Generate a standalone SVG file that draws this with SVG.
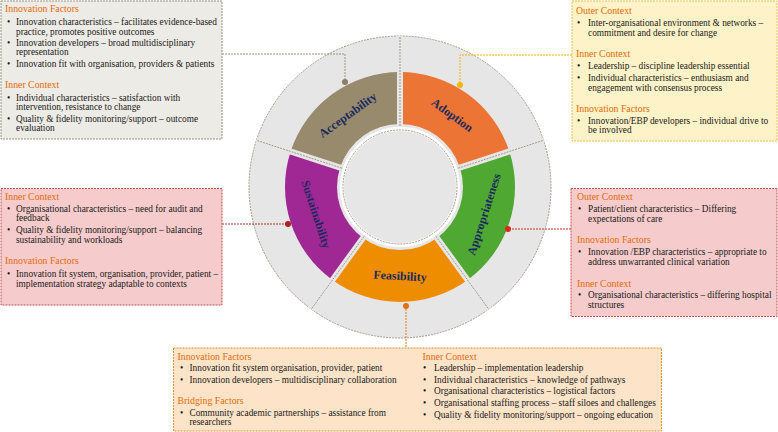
<svg xmlns="http://www.w3.org/2000/svg" width="778" height="432" viewBox="0 0 778 432">
<style>
.t{font-family:"Liberation Serif","Times New Roman",serif;font-size:9.3px;fill:#1a1a1a}
.h{font-family:"Liberation Serif","Times New Roman",serif;font-size:9.8px;fill:#e36c09}
.lbl{font-family:"Liberation Serif","Times New Roman",serif;font-size:12px;font-weight:bold;fill:#1b2a5e;text-anchor:middle}
.div{stroke:#a39b86;stroke-width:1;stroke-dasharray:2 1;fill:none}
.gap{stroke:#e6e6e6;stroke-width:6;fill:none}
</style>
<rect width="778" height="432" fill="#ffffff"/>

<g id="wheel">
  <circle cx="400" cy="187" r="151" fill="#e6e6e6" stroke="#a39b86" stroke-width="1" stroke-dasharray="2 1"/>
</g>

<g id="adoption">
  <path d="M400,72 A115,115 0 0 1 509.4,151.5 L459.9,167.5 A63,63 0 0 0 400,124 Z" fill="#ec7535"/>
  <text class="lbl" transform="translate(452.3,115) rotate(36)" dy="4">Adoption</text>
</g>
<g id="appropriateness">
  <path d="M509.4,151.5 A115,115 0 0 1 467.6,280 L437,238 A63,63 0 0 0 459.9,167.5 Z" fill="#4fa832"/>
  <text class="lbl" transform="translate(484,214.3) rotate(-72)" dy="4">Appropriateness</text>
</g>
<g id="feasibility">
  <path d="M467.6,280 A115,115 0 0 1 332.4,280 L363,238 A63,63 0 0 0 437,238 Z" fill="#ef8d00"/>
  <text class="lbl" transform="translate(400,276) rotate(3)" dy="4">Feasibility</text>
</g>
<g id="sustainability">
  <path d="M332.4,280 A115,115 0 0 1 290.6,151.5 L340.1,167.5 A63,63 0 0 0 363,238 Z" fill="#a02895"/>
  <text class="lbl" transform="translate(316,214.3) rotate(72)" dy="4">Sustainability</text>
</g>
<g id="acceptability">
  <path d="M290.6,151.5 A115,115 0 0 1 400,72 L400,124 A63,63 0 0 0 340.1,167.5 Z" fill="#978a6d"/>
  <text class="lbl" transform="translate(347.7,115) rotate(-36)" dy="4">Acceptability</text>
</g>

<g id="dividers">
  <line class="gap" x1="400" y1="129" x2="400" y2="36"/>
  <line class="gap" x1="455.2" y1="169.1" x2="543.6" y2="140.3"/>
  <line class="gap" x1="434.1" y1="233.9" x2="488.8" y2="309.2"/>
  <line class="gap" x1="365.9" y1="233.9" x2="311.2" y2="309.2"/>
  <line class="gap" x1="344.8" y1="169.1" x2="256.4" y2="140.3"/>
  <line class="div" x1="400" y1="129" x2="400" y2="36"/>
  <line class="div" x1="455.2" y1="169.1" x2="543.6" y2="140.3"/>
  <line class="div" x1="434.1" y1="233.9" x2="488.8" y2="309.2"/>
  <line class="div" x1="365.9" y1="233.9" x2="311.2" y2="309.2"/>
  <line class="div" x1="344.8" y1="169.1" x2="256.4" y2="140.3"/>
</g>

<g id="centre">
  <circle cx="400" cy="187" r="58" fill="#e6e6e6" stroke="#ffffff" stroke-width="4"/>
  <circle cx="400" cy="187" r="57" fill="none" stroke="#a39b86" stroke-width="1" stroke-dasharray="2 1"/>
</g>

<g id="connectors" fill="none" stroke-width="1" stroke-dasharray="2 1">
  <polyline points="222,54 345,54 345,82" stroke="#9e9280"/>
  <polyline points="572,55 460,55 460,85" stroke="#f0b400"/>
  <polyline points="222,224 288,224" stroke="#b03030"/>
  <polyline points="571,229 508,229" stroke="#c83028"/>
  <polyline points="406,306 406,348" stroke="#e07b20"/>
  <circle cx="345" cy="82" r="3" fill="#8c7e65" stroke="none"/>
  <circle cx="460" cy="85" r="3" fill="#f5b800" stroke="none"/>
  <circle cx="288" cy="224" r="3" fill="#b02020" stroke="none"/>
  <circle cx="508" cy="229" r="3" fill="#d82a20" stroke="none"/>
  <circle cx="406" cy="306" r="3" fill="#e07010" stroke="none"/>
</g>

<g id="box-acceptability">
  <rect x="1" y="1" width="221" height="138" fill="#ecebe5" stroke="#9e9280" stroke-width="1" stroke-dasharray="2 1"/>
  <text class="h" x="5" y="12">Innovation Factors</text>
  <text class="t" x="7" y="25">•</text><text class="t" x="16" y="25">Innovation characteristics – facilitates evidence-based</text>
  <text class="t" x="16" y="34.5">practice, promotes positive outcomes</text>
  <text class="t" x="7" y="45.7">•</text><text class="t" x="16" y="45.7">Innovation developers – broad multidisciplinary</text>
  <text class="t" x="16" y="55">representation</text>
  <text class="t" x="7" y="66.7">•</text><text class="t" x="16" y="66.7">Innovation fit with organisation, providers &amp; patients</text>
  <text class="h" x="5" y="88">Inner Context</text>
  <text class="t" x="7" y="100.7">•</text><text class="t" x="16" y="100.7">Individual characteristics – satisfaction with</text>
  <text class="t" x="16" y="110">intervention, resistance to change</text>
  <text class="t" x="7" y="121.7">•</text><text class="t" x="16" y="121.7">Quality &amp; fidelity monitoring/support – outcome</text>
  <text class="t" x="16" y="131">evaluation</text>
</g>

<g id="box-adoption">
  <rect x="572" y="1" width="205" height="140" fill="#fef2c8" stroke="#f2c14e" stroke-width="1" stroke-dasharray="2 1"/>
  <text class="h" x="576" y="14">Outer Context</text>
  <text class="t" x="577" y="26">•</text><text class="t" x="588" y="26">Inter-organisational environment &amp; networks –</text>
  <text class="t" x="588" y="35.7">commitment and desire for change</text>
  <text class="h" x="576" y="57.3">Inner Context</text>
  <text class="t" x="577" y="69">•</text><text class="t" x="588" y="69">Leadership – discipline leadership essential</text>
  <text class="t" x="577" y="80.7">•</text><text class="t" x="588" y="80.7">Individual characteristics – enthusiasm and</text>
  <text class="t" x="588" y="90.7">engagement with consensus process</text>
  <text class="h" x="576" y="112.3">Innovation Factors</text>
  <text class="t" x="577" y="124">•</text><text class="t" x="588" y="124">Innovation/EBP developers – individual drive to</text>
  <text class="t" x="588" y="133.3">be involved</text>
</g>

<g id="box-sustainability">
  <rect x="1" y="188.5" width="221" height="116.5" fill="#f5cbcb" stroke="#c0504d" stroke-width="1" stroke-dasharray="2 1"/>
  <text class="h" x="5" y="200">Inner Context</text>
  <text class="t" x="7" y="211.7">•</text><text class="t" x="16" y="211.7">Organisational characteristics – need for audit and</text>
  <text class="t" x="16" y="220.7">feedback</text>
  <text class="t" x="7" y="233.3">•</text><text class="t" x="16" y="233.3">Quality &amp; fidelity monitoring/support – balancing</text>
  <text class="t" x="16" y="242.7">sustainability and workloads</text>
  <text class="h" x="5" y="264">Innovation Factors</text>
  <text class="t" x="7" y="276.7">•</text><text class="t" x="16" y="276.7">Innovation fit system, organisation, provider, patient –</text>
  <text class="t" x="16" y="286.7">implementation strategy adaptable to contexts</text>
</g>

<g id="box-appropriateness">
  <rect x="571" y="188.5" width="206" height="128" fill="#f5cbcb" stroke="#c0504d" stroke-width="1" stroke-dasharray="2 1"/>
  <text class="h" x="577" y="200">Outer Context</text>
  <text class="t" x="578" y="211.7">•</text><text class="t" x="588" y="211.7">Patient/client characteristics – Differing</text>
  <text class="t" x="588" y="221.7">expectations of care</text>
  <text class="h" x="577" y="243.3">Innovation Factors</text>
  <text class="t" x="578" y="255">•</text><text class="t" x="588" y="255">Innovation /EBP characteristics – appropriate to</text>
  <text class="t" x="588" y="265">address unwarranted clinical variation</text>
  <text class="h" x="577" y="286.7">Inner Context</text>
  <text class="t" x="578" y="298.3">•</text><text class="t" x="588" y="298.3">Organisational characteristics – differing hospital</text>
  <text class="t" x="588" y="307.7">structures</text>
</g>

<g id="box-feasibility">
  <rect x="173.5" y="348" width="488" height="83" fill="#fde3c8" stroke="#e8902c" stroke-width="1" stroke-dasharray="2 1"/>
  <text class="h" x="177.5" y="360">Innovation Factors</text>
  <text class="t" x="180" y="371">•</text><text class="t" x="189.5" y="371">Innovation fit system organisation, provider, patient</text>
  <text class="t" x="180" y="382.7">•</text><text class="t" x="189.5" y="382.7">Innovation developers – multidisciplinary collaboration</text>
  <text class="h" x="177.5" y="404.3">Bridging Factors</text>
  <text class="t" x="180" y="416">•</text><text class="t" x="189.5" y="416">Community academic partnerships – assistance from</text>
  <text class="t" x="189.5" y="425">researchers</text>
  <text class="h" x="422.5" y="360">Inner Context</text>
  <text class="t" x="423" y="371">•</text><text class="t" x="434" y="371">Leadership – implementation leadership</text>
  <text class="t" x="423" y="382.7">•</text><text class="t" x="434" y="382.7">Individual characteristics – knowledge of pathways</text>
  <text class="t" x="423" y="394.3">•</text><text class="t" x="434" y="394.3">Organisational characteristics – logistical factors</text>
  <text class="t" x="423" y="406">•</text><text class="t" x="434" y="406">Organisational staffing process – staff siloes and challenges</text>
  <text class="t" x="423" y="417.7">•</text><text class="t" x="434" y="417.7">Quality &amp; fidelity monitoring/support – ongoing education</text>
</g>
</svg>
